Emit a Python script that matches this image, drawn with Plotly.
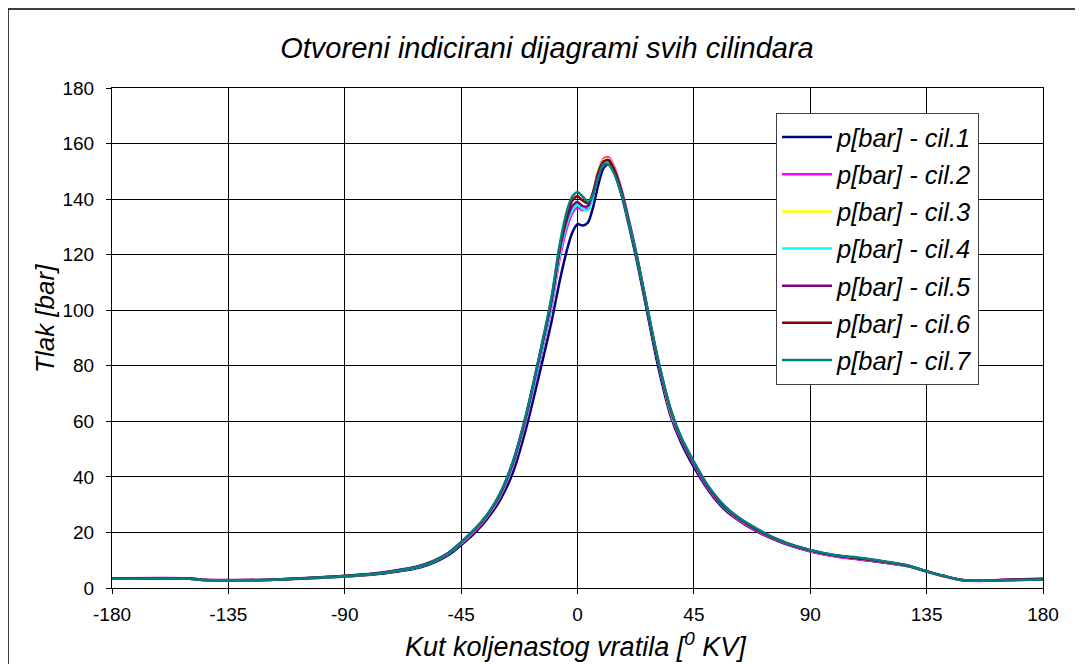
import plotly.graph_objects as go

# kut koljenastog vratila [deg]
kut = [-180, -150, -145, -135, -120, -105, -90, -75, -60, -50, -45, -40, -35, -30,
       -25, -20, -15, -10, -7, -4, -2, 0, 2, 4, 6, 8, 10, 12, 14, 17, 20, 23, 27,
       31, 36, 40, 45, 50, 55, 60, 70, 80, 90, 100, 110, 120, 128, 135, 142, 148,
       155, 165, 180]

# tlak po cilindrima [bar]
cil1 = [3.3, 3.3, 2.9, 2.8, 2.9, 3.4, 4.1, 5.2, 7.6, 11.8, 15.5, 19.6, 24.8, 31.5,
        41.5, 57.0, 76.0, 96.0, 110.0, 122.0, 128.0, 131.0, 130.5, 131.5, 137.0,
        145.0, 151.0, 152.5, 150.0, 141.5, 130.0, 117.5, 99.0, 80.5, 62.0, 52.5,
        43.5, 36.0, 30.0, 25.8, 20.0, 16.0, 13.2, 11.4, 10.2, 9.0, 7.8, 6.0, 4.2,
        3.0, 2.6, 2.9, 3.1]
cil2 = [3.4, 3.4, 3.0, 2.8, 2.9, 3.5, 4.3, 5.5, 8.0, 12.3, 16.0, 20.3, 25.6, 32.8,
        43.8, 60.0, 80.0, 101.5, 118.0, 130.0, 135.0, 137.0, 136.0, 137.0, 142.0,
        150.0, 154.5, 155.0, 152.0, 143.5, 132.0, 119.5, 100.5, 82.0, 63.0, 53.5,
        44.5, 36.5, 30.5, 26.2, 20.2, 16.2, 13.2, 11.3, 10.2, 9.0, 7.8, 5.9, 4.1,
        2.9, 2.5, 3.0, 3.3]
cil3 = [3.3, 3.3, 2.9, 2.8, 2.9, 3.5, 4.3, 5.5, 8.0, 12.4, 16.2, 20.6, 25.9, 33.3,
        44.5, 61.0, 81.5, 103.0, 120.0, 132.0, 137.0, 139.0, 137.5, 137.5, 142.5,
        150.0, 154.0, 154.5, 151.5, 143.0, 131.5, 119.0, 100.5, 82.5, 63.5, 54.0,
        45.0, 37.0, 31.0, 26.5, 20.6, 16.4, 13.5, 11.6, 10.5, 9.2, 7.9, 6.0, 4.2,
        3.0, 2.6, 2.9, 3.1]
cil4 = [3.3, 3.3, 2.9, 2.8, 2.9, 3.5, 4.3, 5.5, 8.0, 12.4, 16.3, 20.7, 26.1, 33.4,
        44.5, 61.0, 81.0, 102.5, 119.5, 131.5, 136.0, 138.0, 136.5, 136.0, 141.0,
        148.5, 152.5, 153.0, 150.5, 142.5, 131.0, 119.0, 100.5, 82.5, 64.0, 54.0,
        45.0, 37.0, 31.0, 26.6, 20.6, 16.4, 13.5, 11.6, 10.5, 9.2, 7.9, 6.0, 4.2,
        3.0, 2.6, 2.9, 3.1]
cil5 = [3.5, 3.5, 3.0, 2.9, 3.0, 3.6, 4.4, 5.7, 8.3, 12.6, 16.5, 20.8, 26.2, 33.6,
        45.0, 61.5, 82.0, 103.5, 121.0, 133.0, 137.5, 139.0, 137.5, 137.5, 142.5,
        149.5, 153.5, 154.0, 151.0, 143.0, 131.5, 119.0, 100.5, 82.5, 64.0, 54.0,
        45.0, 37.0, 31.0, 26.6, 20.6, 16.4, 13.5, 11.6, 10.5, 9.2, 7.9, 6.0, 4.2,
        3.0, 2.6, 3.0, 3.3]
cil6 = [3.3, 3.3, 2.9, 2.8, 2.9, 3.5, 4.3, 5.5, 8.1, 12.5, 16.4, 20.8, 26.2, 33.8,
        45.2, 61.8, 82.3, 104.3, 122.0, 134.5, 139.5, 141.0, 139.5, 138.5, 142.0,
        149.0, 153.5, 154.0, 151.0, 142.5, 131.0, 119.0, 100.5, 82.5, 64.2, 54.2,
        45.3, 37.3, 31.2, 26.8, 20.8, 16.5, 13.6, 11.7, 10.6, 9.3, 8.0, 6.0, 4.3,
        3.0, 2.6, 2.8, 3.1]
cil7 = [3.3, 3.3, 2.9, 2.8, 2.9, 3.5, 4.3, 5.5, 8.1, 12.5, 16.5, 21.0, 26.4, 34.0,
        45.5, 62.0, 82.5, 105.0, 123.0, 136.0, 141.0, 142.5, 141.0, 139.0, 141.5,
        148.0, 152.5, 152.5, 149.5, 142.0, 131.0, 119.0, 101.0, 83.0, 64.5, 54.5,
        45.5, 37.5, 31.5, 27.0, 21.0, 16.5, 13.7, 11.8, 10.8, 9.4, 8.0, 6.0, 4.3,
        3.0, 2.6, 2.8, 3.1]

nazivi = ['p[bar] - cil.1', 'p[bar] - cil.2', 'p[bar] - cil.3', 'p[bar] - cil.4',
          'p[bar] - cil.5', 'p[bar] - cil.6', 'p[bar] - cil.7']
boje = ['#000080', '#FF00FF', '#FFFF00', '#00FFFF', '#800080', '#800000', '#008080']
tlakovi = [cil1, cil2, cil3, cil4, cil5, cil6, cil7]

x_tickovi = [-180, -135, -90, -45, 0, 45, 90, 135, 180]
x_oznake = ['-180', '-135', '-90', '-45', '0', '45', '90', '135', '180']

FONT = 'Liberation Sans, Arial, sans-serif'

fig = go.Figure()
for i in range(7):
    fig.add_trace(go.Scatter(
        x=kut, y=tlakovi[i], name=nazivi[i], mode='lines',
        legendgroup='g%d' % i,
        line=dict(color=boje[i], width=2.5, shape='spline', smoothing=0.8)))

osi = dict(showgrid=True, gridcolor='#000000', gridwidth=1, showline=True,
           linecolor='#000000', linewidth=1, mirror=True, ticks='outside',
           ticklen=5, tickcolor='#000000', zeroline=False,
           tickfont=dict(family=FONT, size=19, color='#000000'))

# stranica ima 8px margine, pa je sve pomaknuto za 8px
fig.update_layout(
    width=1083, height=664,
    plot_bgcolor='#FFFFFF', paper_bgcolor='#FFFFFF',
    margin=dict(l=104, r=48, t=80, b=84),
    font=dict(family=FONT, color='#000000'),
    title=dict(text='Otvoreni indicirani dijagrami svih cilindara',
               x=0.4977, xanchor='center', y=0.94, yanchor='middle',
               font=dict(family=FONT, size=29, style='italic', color='#000000')),
    xaxis=dict(osi, range=[-180, 180], tickvals=x_tickovi, ticktext=x_oznake,
               ticklabelstandoff=4),
    yaxis=dict(osi, range=[0, 180], dtick=20, ticklabelstandoff=8),
    legend=dict(x=0.7132, y=0.95, xanchor='left', yanchor='top',
                bgcolor='#FFFFFF', bordercolor='#404040', borderwidth=1,
                tracegroupgap=1, itemwidth=50,
                font=dict(family=FONT, size=25.5, style='italic', color='#000000')),
    showlegend=True,
)

# naslovi osi
fig.add_annotation(text='Tlak [bar]', xref='paper', yref='paper',
                   x=-0.072, y=0.54, textangle=-90, showarrow=False,
                   xanchor='center', yanchor='middle',
                   font=dict(family=FONT, size=26, style='italic'))
fig.add_annotation(text='Kut koljenastog vratila [<sup>0</sup> KV]', xref='paper', yref='paper',
                   x=0.498, y=-0.114, showarrow=False, xanchor='center', yanchor='middle',
                   font=dict(family=FONT, size=27, style='italic'))

# okvir slike
fig.add_shape(type='rect', xref='paper', yref='paper',
              x0=-0.1117, x1=1.045, y0=-0.2, y1=1.158,
              line=dict(color='#000000', width=1.5), layer='below')

fig.write_html('out.html')
